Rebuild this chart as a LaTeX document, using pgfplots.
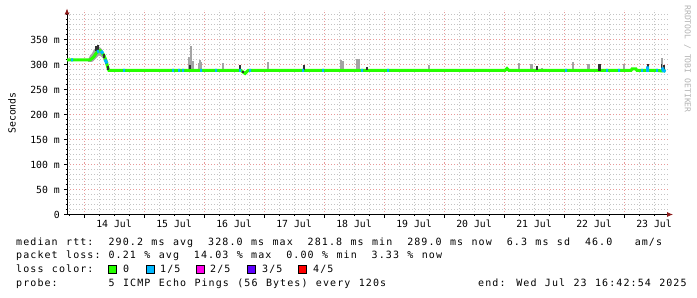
\documentclass[border=0pt]{standalone}
\usepackage{pgfplots}
\pgfplotsset{compat=1.18}
\usepackage{fontspec}
\setmainfont{DejaVu Sans Mono}
\newfontfamily\legfont{DejaVu Sans Mono}[LetterSpace=10.9,WordSpace=1.18]
\usetikzlibrary{arrows.meta}
\definecolor{lc0}{HTML}{26FF00}
\definecolor{lc1}{HTML}{00B8FF}
\definecolor{lc2}{HTML}{FF00EA}
\definecolor{lc3}{HTML}{5E00FF}
\definecolor{lc4}{HTML}{FF0000}
\definecolor{mgrid}{HTML}{E89A9A}
\definecolor{sgrid}{HTML}{C4C4C4}
\definecolor{arrowc}{HTML}{8B1A1A}
\definecolor{smoke}{HTML}{A4A4A4}
\definecolor{darksmoke}{HTML}{303030}
\newcommand\leg[3]{\node[anchor=base west, inner sep=0pt, font=\fontsize{10bp}{12bp}\legfont] at ({16+7.11*#1},#2) {#3};}
\begin{document}
\begin{tikzpicture}[x=1bp,y=1bp]
\useasboundingbox (0,0) rectangle (697,297);
\begin{axis}[
  at={(67bp,82.5bp)}, anchor=south west,
  scale only axis, width=601bp, height=204bp,
  xmin=-6.8, xmax=233.6, ymin=0, ymax=408,
  axis x line*=bottom, axis y line*=left,
  axis line style={line width=0.8bp, black},
  x axis line style={-{Latex[length=6bp,width=5bp,color=arrowc]}, shorten >=-5bp},
  y axis line style={-{Latex[length=6bp,width=5bp,color=arrowc]}, shorten >=-2bp},
  xtick={0,24,...,216}, xticklabels={},
  minor xtick={-6,6,12,18,30,36,42,54,60,66,78,84,90,102,108,114,126,132,138,150,156,162,174,180,186,198,204,210,222,228},
  extra x ticks={12,36,60,84,108,132,156,180,204,228},
  extra x tick labels={14 Jul,15 Jul,16 Jul,17 Jul,18 Jul,19 Jul,20 Jul,21 Jul,22 Jul,23 Jul},
  extra x tick style={grid=none, major tick length=0pt, xticklabel style={yshift=-5.5bp}},
  ytick={0,50,...,350}, yticklabels={0,50 m,100 m,150 m,200 m,250 m,300 m,350 m},
  minor ytick={10,20,30,40,60,70,80,90,110,120,130,140,160,170,180,190,210,220,230,240,260,270,280,290,310,320,330,340,360,370,380,390,400},
  grid=both,
  major grid style={mgrid, dash pattern=on 1bp off 2bp, line width=0.7bp},
  minor grid style={sgrid, dash pattern=on 1bp off 2bp, line width=0.7bp},
  tick align=outside, major tick length=3bp, minor tick length=1.5bp,
  tick style={black, line width=0.6bp},
  ticklabel style={font=\fontsize{9.8bp}{11bp}\selectfont, inner sep=0pt},
  yticklabel style={xshift=-4bp},
  unbounded coords=jump,
]
% smoke around the early bump
\addplot[fill=smoke, draw=none] coordinates {
 (1.6,309) (2.4,318) (3.2,322) (4.0,330) (4.8,333) (5.6,337) (6.4,334) (7.2,330) (8.0,322) (8.8,312) (9.6,298) (10.0,290)
 (10.0,286) (9.2,294) (8.4,304) (7.6,312) (6.8,316) (6.0,318) (5.2,314) (4.4,310) (3.6,306) (2.8,305) (1.6,305)} -- cycle;
% light smoke spikes
\addplot[smoke, line width=2bp] coordinates {
 (42.0,288) (42.0,315) (42.0,nan)
 (42.8,288) (42.8,337) (42.8,nan)
 (43.6,288) (43.6,306) (43.6,nan)
 (46.0,288) (46.0,302) (46.0,nan)
 (46.4,288) (46.4,309) (46.4,nan)
 (46.8,288) (46.8,305) (46.8,nan)
 (55.4,288) (55.4,302) (55.4,nan)
 (73.4,288) (73.4,304) (73.4,nan)
 (102.6,288) (102.6,309) (102.6,nan)
 (103.4,288) (103.4,307) (103.4,nan)
 (109.2,288) (109.2,311) (109.2,nan)
 (110.0,288) (110.0,311) (110.0,nan)
 (138,288) (138,299) (138,nan)
 (174,288) (174,302) (174,nan)
 (178.6,288) (178.6,301) (178.6,nan)
 (179.2,288) (179.2,301) (179.2,nan)
 (183.2,288) (183.2,293) (183.2,nan)
 (195.6,288) (195.6,304) (195.6,nan)
 (201.4,288) (201.4,301) (201.4,nan)
 (202.0,288) (202.0,301) (202.0,nan)
 (216,288) (216,300) (216,nan)
 (231.2,288) (231.2,313)
};
% median rtt, loss 0
\addplot[lc0, line width=3bp] coordinates {
 (-6.8,309) (-2,309) (2.4,309) (3.2,312) (4.0,316) (4.8,322) (5.6,326) (6.4,328) (7.2,324) (8.0,318) (8.8,308) (9.2,300) (9.6,293) (10.0,288)
 (62.8,288) (63.6,285) (64.4,282) (65.2,286) (65.6,288)
 (168.4,288) (169.2,292) (170,288) (218.8,288) (219.2,291) (220.8,291) (221.2,288) (229.6,288) (231.2,287) (232.6,289)};
% dark smoke
\addplot[darksmoke, line width=1.6bp] coordinates {
 (4.8,326) (4.8,336) (4.8,nan)
 (5.6,328) (5.6,338) (5.6,nan)
 (8.0,320) (8.0,313) (8.0,nan)
 (8.8,310) (8.8,300) (8.8,nan)
 (9.6,297) (9.6,289) (9.6,nan)
 (42.4,290) (42.4,299) (42.4,nan)
 (62.4,289) (62.4,298) (62.4,nan)
 (63.6,287) (63.6,282) (63.6,nan)
 (88,288) (88,298) (88,nan)
 (113.2,289) (113.2,295) (113.2,nan)
 (181.2,289) (181.2,297) (181.2,nan)
 (206,287) (206,300) (206,nan)
 (206.6,287) (206.6,300) (206.6,nan)
 (225.6,289) (225.6,300) (225.6,nan)
 (231.0,289) (231.0,300) (231.0,nan)
 (232.0,289) (232.0,298)};
% median rtt, loss 1/5
\addplot[lc1, line width=3bp] coordinates {
 (-5.2,309) (-4.4,309) (-4.4,nan)
 (5.2,325) (6.0,327) (6.0,nan)
 (6.8,327) (7.6,322) (7.6,nan)
 (8.4,310) (9.2,302) (9.2,nan)
 (15.6,288) (16.4,288) (16.4,nan)
 (35.2,288) (36.0,288) (36.0,nan)
 (37.6,288) (38.4,288) (38.4,nan)
 (39.2,288) (40.0,288) (40.0,nan)
 (46.4,288) (47.2,288) (47.2,nan)
 (52.4,288) (53.2,288) (53.2,nan)
 (62.0,288) (62.8,288) (62.8,nan)
 (66.0,288) (66.8,288) (66.8,nan)
 (87.2,288) (88.0,288) (88.0,nan)
 (95.2,288) (96.0,288) (96.0,nan)
 (110.8,288) (111.6,288) (111.6,nan)
 (121.2,288) (122.0,288) (122.0,nan)
 (192.4,288) (193.2,288) (193.2,nan)
 (208.8,288) (209.6,288) (209.6,nan)
 (213.6,288) (214.4,288) (214.4,nan)
 (222.8,288) (223.6,288) (223.6,nan)
 (225.4,296) (225.4,288) (226.0,288) (226.0,nan)
 (228.8,288) (229.6,288) (229.6,nan)
 (231.4,294) (231.6,288) (232.6,286)};
\end{axis}
% y label and watermark
\node[rotate=90, font=\fontsize{9.8bp}{11bp}\selectfont] at (12,184) {Seconds};
\node[rotate=-90, text=black!30, font=\fontsize{8.1bp}{9bp}\selectfont] at (687.5,238) {RRDTOOL / TOBI OETIKER};
% legend lines
\leg{0}{52}{median rtt:}
\leg{13}{52}{290.2 ms avg}
\leg{27}{52}{328.0 ms max}
\leg{41}{52}{281.8 ms min}
\leg{55}{52}{289.0 ms now}
\leg{69}{52}{6.3 ms sd}
\leg{80}{52}{46.0}
\leg{87}{52}{am/s}
\leg{0}{38.2}{packet loss:}
\leg{13}{38.2}{0.21 \% avg}
\leg{25}{38.2}{14.03 \% max}
\leg{38}{38.2}{0.00 \% min}
\leg{50}{38.2}{3.33 \% now}
\leg{0}{24.2}{loss color:}
\draw[fill=lc0, line width=0.6bp] (108,24) rectangle (116,32);
\draw[fill=lc1, line width=0.6bp] (146,24) rectangle (154,32);
\draw[fill=lc2, line width=0.6bp] (196,24) rectangle (204,32);
\draw[fill=lc3, line width=0.6bp] (247,24) rectangle (255,32);
\draw[fill=lc4, line width=0.6bp] (298,24) rectangle (306,32);
\node[anchor=base west, inner sep=0pt, font=\fontsize{10bp}{12bp}\legfont] at (123,24.2) {0};
\node[anchor=base west, inner sep=0pt, font=\fontsize{10bp}{12bp}\legfont] at (160,24.2) {1/5};
\node[anchor=base west, inner sep=0pt, font=\fontsize{10bp}{12bp}\legfont] at (210,24.2) {2/5};
\node[anchor=base west, inner sep=0pt, font=\fontsize{10bp}{12bp}\legfont] at (262,24.2) {3/5};
\node[anchor=base west, inner sep=0pt, font=\fontsize{10bp}{12bp}\legfont] at (313,24.2) {4/5};
\leg{0}{10.2}{probe:}
\leg{13}{10.2}{5 ICMP Echo Pings (56 Bytes) every 120s}
\node[anchor=base west, inner sep=0pt, font=\fontsize{10bp}{12bp}\legfont] at (478,10.2) {end: Wed Jul 23 16:42:54 2025};
\end{tikzpicture}
\end{document}
